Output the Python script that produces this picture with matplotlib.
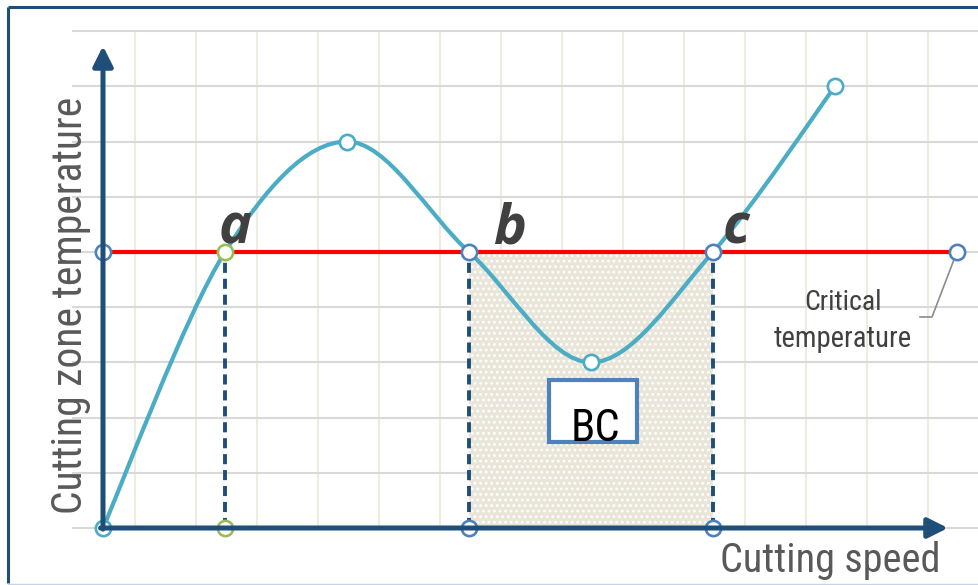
import matplotlib
matplotlib.use("Agg")
import matplotlib.pyplot as plt
from matplotlib.path import Path
from matplotlib.patches import PathPatch, Rectangle
from matplotlib import font_manager as fm
import numpy as np

# ---------------- data ----------------
speed = [0, 1, 2, 3, 4, 5, 6]            # cutting speed (relative units)
temperature = [0, 5, 7, 5, 3, 5, 8]      # cutting zone temperature (relative units)
curve_marker_idx = [0, 2, 4, 6]
critical_temp = 5
critical_x_end = 7
points_abc = [1, 3, 5]
labels_abc = ["a", "b", "c"]
bc_range = [3, 5]

# ---------------- fonts ----------------
def find_narrow():
    prefs = ["liberation sans narrow", "roboto condensed", "open sans condensed",
             "noto sans condensed", "dejavu sans condensed", "arial narrow"]
    cands = []
    for f in fm.fontManager.ttflist:
        nm = f.name.lower()
        fn = f.fname.lower()
        is_narrow = ("narrow" in nm or "condensed" in nm or "condensed" in fn or "narrow" in fn
                     or str(f.stretch) in ("condensed", "semi-condensed", "extra-condensed"))
        if not is_narrow:
            continue
        if str(f.style) != "normal":
            continue
        w = f.weight if isinstance(f.weight, int) else 400
        if "bold" in fn or "light" in fn or "thin" in fn or "black" in fn or "medium" in fn or "semibold" in fn:
            continue
        key = 99
        for i, p in enumerate(prefs):
            if p in nm or p.replace(" ", "") in fn.replace("-", "").replace("_", ""):
                key = i
                break
        cands.append((key, abs(w - 400), f.fname))
    if cands:
        cands.sort()
        return cands[0][2]
    return None

narrow_path = find_narrow()

def nprop(size):
    if narrow_path:
        return fm.FontProperties(fname=narrow_path, size=size)
    return fm.FontProperties(family="DejaVu Sans", size=size)

names = {f.name for f in fm.fontManager.ttflist}
ITAL = "Open Sans" if "Open Sans" in names else "DejaVu Sans"
plt.rcParams["hatch.linewidth"] = 1.2

DARK = "#1f4e79"
TEAL = "#4bacc6"
BLUE = "#4f81bd"
GREEN = "#9bbb59"
RED = "#ff0000"
GRIDH = "#d9d9d9"
GRIDV = "#eeece1"

W, H = 979, 585
XU, YU = 122.0, 55.2
X0PX, Y0PX = 103, 528

fig = plt.figure(figsize=(W / 100, H / 100), dpi=100)
ax = fig.add_axes([0, 0, 1, 1])
ax.set_xlim(-X0PX / XU, (W - X0PX) / XU)
ax.set_ylim((Y0PX - H) / YU, Y0PX / YU)
ax.axis("off")

def px_x(p):
    return (p - X0PX) / XU

def px_y(p):
    return (Y0PX - p) / YU

# frame
ax.plot([px_x(8), px_x(985)], [px_y(7), px_y(7)], color=DARK, lw=2.2, solid_capstyle="butt", zorder=0, clip_on=False)
ax.plot([px_x(8), px_x(8)], [px_y(7), px_y(583)], color=DARK, lw=2.2, solid_capstyle="butt", zorder=0)
ax.plot([px_x(8), px_x(985)], [px_y(583.5), px_y(583.5)], color="#c8d4e3", lw=1.0, zorder=0)

# grid
grid_y = np.arange(0, 10)
for gy in grid_y:
    ax.plot([px_x(73), px_x(985)], [gy, gy], color=GRIDH, lw=1.5, zorder=1)
grid_x = px_x(135) + 0.5 * np.arange(0, 14)
for gx in grid_x:
    ax.plot([gx, gx], [0, 9], color=GRIDV, lw=1.5, zorder=0.9)

# shaded region between b and c
ax.fill_between(bc_range, [0, 0], [critical_temp, critical_temp], facecolor="#e9e6d9",
                edgecolor="white", hatch="...", linewidth=0, zorder=2)

# critical temperature line
ax.plot([0, critical_x_end], [critical_temp, critical_temp], color=RED, lw=3.0, zorder=3, solid_capstyle="butt")

# dashed verticals
for px in points_abc:
    ax.plot([px, px], [0, critical_temp], color=DARK, lw=2.8, dashes=(2.6, 1.5), zorder=3)

# smoothed curve (Catmull-Rom -> cubic Bezier)
P = np.column_stack([speed, temperature]).astype(float)
verts = [tuple(P[0])]
codes = [Path.MOVETO]
n = len(P)
for i in range(n - 1):
    p0 = P[i - 1] if i > 0 else P[i]
    p1 = P[i]
    p2 = P[i + 1]
    p3 = P[i + 2] if i + 2 < n else P[i + 1]
    c1 = p1 + (p2 - p0) / 6.0
    c2 = p2 - (p3 - p1) / 6.0
    verts += [tuple(c1), tuple(c2), tuple(p2)]
    codes += [Path.CURVE4] * 3
ax.add_patch(PathPatch(Path(verts, codes), facecolor="none", edgecolor=TEAL, lw=3.0, zorder=4))

ms, mew = 11, 1.9
ax.plot([speed[i] for i in curve_marker_idx], [temperature[i] for i in curve_marker_idx], ls="none",
        marker="o", ms=ms, mew=mew, mfc="white", mec=TEAL, zorder=5)

# critical line markers
ax.plot([0], [critical_temp], ls="none", marker="o", ms=ms, mew=mew, mfc="white", mec=BLUE, zorder=5)
ax.plot([critical_x_end], [critical_temp], ls="none", marker="o", ms=ms, mew=mew, mfc="white", mec=BLUE, zorder=5)
for px in points_abc:
    c = GREEN if px == points_abc[0] else BLUE
    ax.plot([px], [critical_temp], ls="none", marker="o", ms=ms, mew=mew, mfc="white", mec=c, zorder=5)
    ax.plot([px], [0], ls="none", marker="o", ms=ms, mew=mew, mfc="white", mec=c, zorder=5)

# axes arrows
ax.annotate("", xy=(0, px_y(46)), xytext=(0, -0.02),
            arrowprops=dict(arrowstyle="-|>", color=DARK, lw=3.6, mutation_scale=30, shrinkA=0, shrinkB=0),
            zorder=6)
ax.annotate("", xy=(px_x(948), 0), xytext=(-0.02, 0),
            arrowprops=dict(arrowstyle="-|>", color=DARK, lw=3.6, mutation_scale=30, shrinkA=0, shrinkB=0),
            zorder=6)

# a, b, c labels
for px, lab, dx in zip(points_abc, labels_abc, [0.08, 0.34, 0.19]):
    ax.text(px + dx, px_y(243), lab, fontsize=40, fontstyle="italic", fontweight="bold",
            family=ITAL, color="#404040", ha="center", va="baseline", zorder=8)

# BC box
ax.add_patch(Rectangle((px_x(549), px_y(442)), (637 - 549) / XU, (442 - 380) / YU,
                       facecolor="white", edgecolor=BLUE, lw=3.0, zorder=6))

texts = []
t_bc = ax.text(px_x(595), px_y(441), "BC", fontproperties=nprop(32), color="black",
               ha="center", va="baseline", zorder=7)
texts.append((t_bc, 50, 32))
t_c1 = ax.text(px_x(843), px_y(310), "Critical", fontproperties=nprop(22), color="#404040",
               ha="center", va="baseline", zorder=7)
texts.append((t_c1, 78, 22))
t_c2 = ax.text(px_x(843), px_y(347), "temperature", fontproperties=nprop(22), color="#404040",
               ha="center", va="baseline", zorder=7)
texts.append((t_c2, 138, 22))
ax.plot([px_x(955), px_x(932), px_x(920)], [px_y(257), px_y(317), px_y(317)], color="#8c8c8c", lw=1.2, zorder=4)

# axis titles
t_y = ax.text(px_x(82), px_y(305), "Cutting zone temperature", fontproperties=nprop(32), color="#595959",
              rotation=90, rotation_mode="anchor", ha="center", va="baseline", zorder=7)
texts.append((t_y, 418, 32))
t_x = ax.text(px_x(830), px_y(572), "Cutting speed", fontproperties=nprop(32), color="#595959",
              ha="center", va="baseline", zorder=7)
texts.append((t_x, 220, 32))

# fit text lengths to the reference widths (the reference uses a condensed face)
fig.canvas.draw()
r = fig.canvas.get_renderer()
for t, target, size in texts:
    bb = t.get_window_extent(renderer=r)
    length = max(bb.width, bb.height) if t.get_rotation() else bb.width
    new = size * min(1.0, target / length)
    t.set_fontsize(new)

fig.savefig("out.png", dpi=100)
